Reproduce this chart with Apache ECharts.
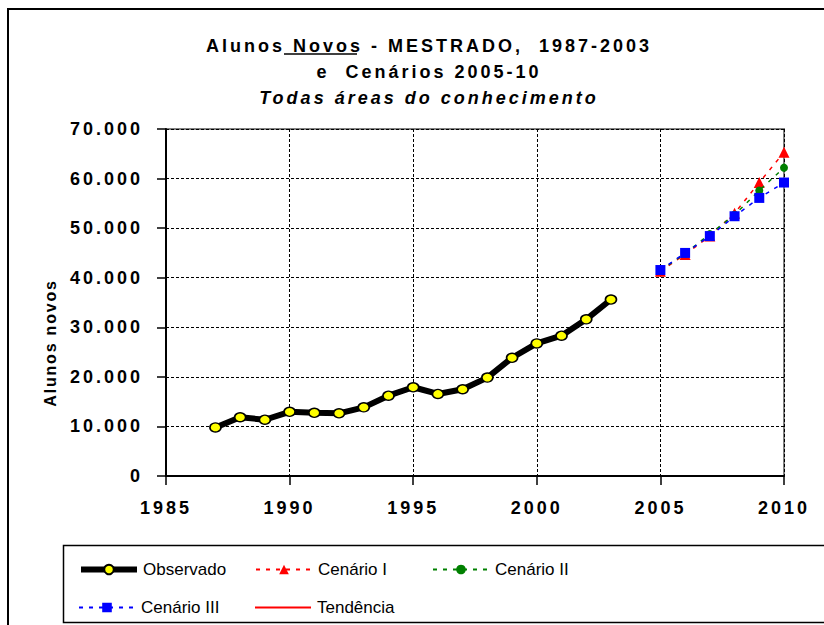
<!DOCTYPE html>
<html>
<head>
<meta charset="utf-8">
<script src="https://cdn.jsdelivr.net/npm/echarts@6/dist/echarts.min.js"></script>
<style>
html,body{margin:0;padding:0;background:#fff;}
#chart{width:824px;height:625px;}
#chart text[style*="bold"]{letter-spacing:3px;}
#chart text[style*="bold"][style*="16px"]{letter-spacing:1.8px;}
</style>
</head>
<body>
<div id="chart"></div>
<script>
// ---- data ----
var obsYears = [1987,1988,1989,1990,1991,1992,1993,1994,1995,1996,1997,1998,1999,2000,2001,2002,2003];
var observado = [9800,11850,11350,12950,12750,12650,13850,16200,17900,16550,17500,19850,23850,26750,28300,31600,35600];
var cenYears = [2005,2006,2007,2008,2009,2010];
var cenarioI   = [41300,44700,48400,53000,59200,65300];
var cenarioII  = [41450,44900,48800,52700,57600,62200];
var cenarioIII = [41550,45000,48400,52400,56100,59200];
var tendencia = [];
var seriesNames = ['Observado','Cenário I','Cenário II','Cenário III','Tendência'];
var titleLines = ['Alunos Novos - MESTRADO,  1987-2003','e  Cenários 2005-10','Todas áreas do conhecimento'];
var yAxisName = 'Alunos novos';

function pairs(xs, ys){ return ys.map(function(v,i){ return [xs[i], v]; }); }
function fmt(v){ return String(v).replace(/\B(?=(\d{3})+(?!\d))/g, '.'); }

var FONT = 'Liberation Sans';
var chart = echarts.init(document.getElementById('chart'), null, {renderer:'svg'});

function legendAt(name, left, top, extra){
  var l = {
    data:[name], left:left, top:top, orient:'horizontal', padding:0,
    itemWidth:56, itemHeight:12, itemGap:0,
    textStyle:{fontFamily:FONT, fontSize:17, color:'#000', padding:[0,0,0,1]}
  };
  if (extra) for (var k in extra) l[k] = extra[k];
  return l;
}

var option = {
  backgroundColor:'#fff',
  animation:false,
  title:[
    {text:titleLines[0], left:424, top:32, textAlign:'center',
     textStyle:{fontFamily:FONT, fontSize:18, fontWeight:'bold', color:'#000'}},
    {text:titleLines[1], left:424, top:58, textAlign:'center',
     textStyle:{fontFamily:FONT, fontSize:18, fontWeight:'bold', color:'#000'}},
    {text:titleLines[2], left:424, top:84, textAlign:'center',
     textStyle:{fontFamily:FONT, fontSize:18, fontWeight:'bold', fontStyle:'italic', color:'#000'}}
  ],
  graphic:[
    {type:'rect', shape:{x:8,y:9,width:900,height:800}, style:{fill:null, stroke:'#000', lineWidth:2}, silent:true, z:-1},
    {type:'rect', shape:{x:63.5,y:545.5,width:900,height:77}, style:{fill:null, stroke:'#000', lineWidth:1.5}, silent:true},
    {type:'line', shape:{x1:284,y1:54,x2:357,y2:54}, style:{stroke:'#000', lineWidth:1.5}, silent:true},
    {type:'text', x:50, y:343, rotation:Math.PI/2, silent:true,
     style:{text:yAxisName, fontFamily:FONT, fontSize:16, fontWeight:'bold', fill:'#000', align:'center', verticalAlign:'middle'}}
  ],
  legend:[
    legendAt(seriesNames[0], 78, 561, {lineStyle:{width:6}}),
    legendAt(seriesNames[1], 255, 561),
    legendAt(seriesNames[2], 432, 561),
    legendAt(seriesNames[3], 78, 599),
    legendAt(seriesNames[4], 255, 599, {data:[{name:seriesNames[4], icon:'path://M0,0L56,0L56,2L0,2Z'}], itemStyle:{color:'#ff0000'}})
  ],
  grid:{left:166, right:40, top:129, bottom:149, show:true, borderColor:'#808080', borderWidth:2, backgroundColor:'#fff'},
  xAxis:{
    type:'value', min:1985, max:2010, interval:5,
    axisLine:{show:true, onZero:false, lineStyle:{color:'#000', width:2}},
    axisTick:{show:true, length:9, lineStyle:{color:'#000', width:1.5}},
    axisLabel:{margin:23, fontFamily:FONT, fontSize:18, fontWeight:'bold', color:'#000', formatter:function(v){return String(v);}},
    splitLine:{show:true, lineStyle:{color:'#000', width:1, type:[3,2]}}
  },
  yAxis:{
    type:'value', min:0, max:70000, interval:10000,
    axisLine:{show:true, onZero:false, lineStyle:{color:'#000', width:2}},
    axisTick:{show:true, length:9, lineStyle:{color:'#000', width:1.5}},
    axisLabel:{margin:23, fontFamily:FONT, fontSize:18, fontWeight:'bold', color:'#000', formatter:fmt},
    splitLine:{show:true, lineStyle:{color:'#000', width:1, type:[3,2]}}
  },
  series:[
    {name:seriesNames[0], type:'line', data:pairs(obsYears, observado),
     lineStyle:{color:'#000', width:6}, symbol:'circle', symbolSize:[11,9],
     itemStyle:{color:'#ffff00', borderColor:'#000', borderWidth:1.5}, z:3},
    {name:seriesNames[1], type:'line', data:pairs(cenYears, cenarioI),
     lineStyle:{color:'#ff0000', width:1.5, type:[4,6]}, symbol:'triangle', symbolSize:11,
     itemStyle:{color:'#ff0000'}, z:4},
    {name:seriesNames[2], type:'line', data:pairs(cenYears, cenarioII),
     lineStyle:{color:'#008000', width:1.5, type:[4,6]}, symbol:'circle', symbolSize:8,
     itemStyle:{color:'#008000'}, z:5},
    {name:seriesNames[3], type:'line', data:pairs(cenYears, cenarioIII),
     lineStyle:{color:'#0000ff', width:1.5, type:[4,6]}, symbol:'rect', symbolSize:10,
     itemStyle:{color:'#0000ff'}, z:6},
    {name:seriesNames[4], type:'line', data:tendencia,
     lineStyle:{color:'#ff0000', width:2}, symbol:'none', itemStyle:{color:'#ff0000'}}
  ]
};
chart.setOption(option);
</script>
</body>
</html>
